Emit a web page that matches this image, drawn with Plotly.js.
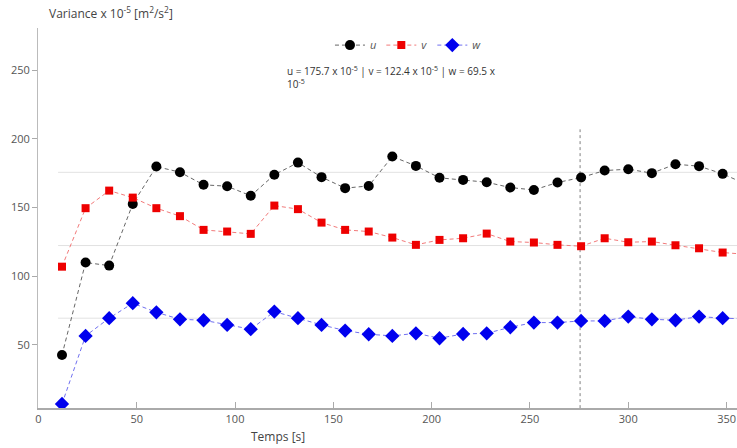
<!DOCTYPE html>
<html>
<head>
<meta charset="utf-8">
<script src="https://cdn.plot.ly/plotly-3.0.1.min.js"></script>
<style>html,body{margin:0;padding:0;background:#fff;}#chart{width:737px;height:448px;}</style>
</head>
<body>
<div id="chart"></div>
<script>
var time = [12,24,36,48,60,72,84,96,108,120,132,144,156,168,180,192,204,216,228,240,252,264,276,288,300,312,324,336,348,360];
var uVals = [42.7,110,107.8,152.7,179.9,175.8,166.6,165.6,158.6,173.9,182.8,172.2,164.2,165.8,187.2,180.4,171.7,170.2,168.5,164.6,162.9,168.3,171.9,177,178,175.1,181.6,180.2,174.6,167];
var vVals = [107,149.6,162.4,157.3,149.6,143.8,133.8,132.6,130.9,151.5,148.9,139.1,133.8,132.6,128.2,122.9,126.5,127.7,131.1,125.3,124.6,122.9,121.9,127.7,124.8,125.3,122.6,120.4,117.3,116];
var wVals = [7,56.6,69.5,80.4,73.8,68.7,68,64.6,61.5,74.3,69.5,64.6,60.5,57.8,56.6,58.5,54.9,58,58.5,62.9,66.3,66.3,67.5,67.5,70.7,68.7,68,70.7,69.5,69];
var seriesNames = ['u','v','w'];
var means = [175.7,122.4,69.5];
var meanX = [10,360];
var markerTime = 275.5;
var markerY = [4,207];
var yTicks = [50,100,150,200,250];
var xTicks = [0,50,100,150,200,250,300,350];

var font = "'Open Sans', 'Liberation Sans', sans-serif";
var traces = [];
means.forEach(function(m){
  traces.push({x: meanX, y: [m,m], mode:'lines', line:{color:'#e2e2e2', width:1}, showlegend:false, hoverinfo:'skip'});
});
traces.push({x:[markerTime,markerTime], y: markerY, mode:'lines', line:{color:'#808080', width:1, dash:'3px,3px'}, showlegend:false, hoverinfo:'skip'});

traces.push({x: time, y: uVals, name: seriesNames[0], mode:'lines+markers',
  line:{color:'#666666', width:1, dash:'4px,3px'}, marker:{symbol:'circle', color:'#000000', size:10}});
traces.push({x: time, y: vVals, name: seriesNames[1], mode:'lines+markers',
  line:{color:'#f27a7a', width:1, dash:'4px,3px'}, marker:{symbol:'square', color:'#ee0000', size:8}});
traces.push({x: time, y: wVals, name: seriesNames[2], mode:'lines+markers',
  line:{color:'#7070f0', width:1, dash:'4px,3px'}, marker:{symbol:'diamond', color:'#0000ee', size:11}});

var layout = {
  width:737, height:448,
  margin:{l:38, r:0, t:28, b:40},
  paper_bgcolor:'#fff', plot_bgcolor:'#fff',
  font:{family:font, size:11, color:'#555'},
  showlegend:true,
  legend:{orientation:'h', x:0.53, y:0.955, xanchor:'center', yanchor:'middle',
    font:{family:font, size:11, color:'#555', style:'italic'}, itemwidth:30, tracegroupgap:0},
  xaxis:{range:[-0.2,355.3], tickvals:xTicks, ticks:'inside', ticklen:6, tickcolor:'#aaa',
    showgrid:false, zeroline:false, showline:true, linecolor:'#aaa', linewidth:2,
    tickfont:{family:font, size:11, color:'#555'}},
  yaxis:{range:[4.1,280.8], tickvals:yTicks, ticks:'outside', ticklen:5, tickcolor:'#aaa',
    showgrid:false, zeroline:false, showline:true, linecolor:'#bbb', linewidth:1,
    tickfont:{family:font, size:11, color:'#555'}},
  annotations:[
    {xref:'paper', yref:'paper', x:0.0125, y:1.04, xanchor:'left', yanchor:'middle', showarrow:false,
      text:'Variance x 10<sup>-5</sup> [m<sup>2</sup>/s<sup>2</sup>]', font:{family:font, size:12, color:'#444'}},
    {xref:'paper', yref:'paper', x:0.353, y:0.87, xanchor:'left', yanchor:'middle', showarrow:false, align:'left',
      text:'u = 175.7 x 10<sup>-5</sup> | v = 122.4 x 10<sup>-5</sup> | w = 69.5 x<br>10<sup>-5</sup>',
      font:{family:font, size:10, color:'#333'}},
    {xref:'paper', yref:'paper', x:0.344, y:-0.075, xanchor:'center', yanchor:'middle', showarrow:false,
      text:'Temps [s]', font:{family:font, size:12, color:'#444'}}
  ]
};
Plotly.newPlot('chart', traces, layout, {displayModeBar:false, staticPlot:true});
</script>
</body>
</html>
